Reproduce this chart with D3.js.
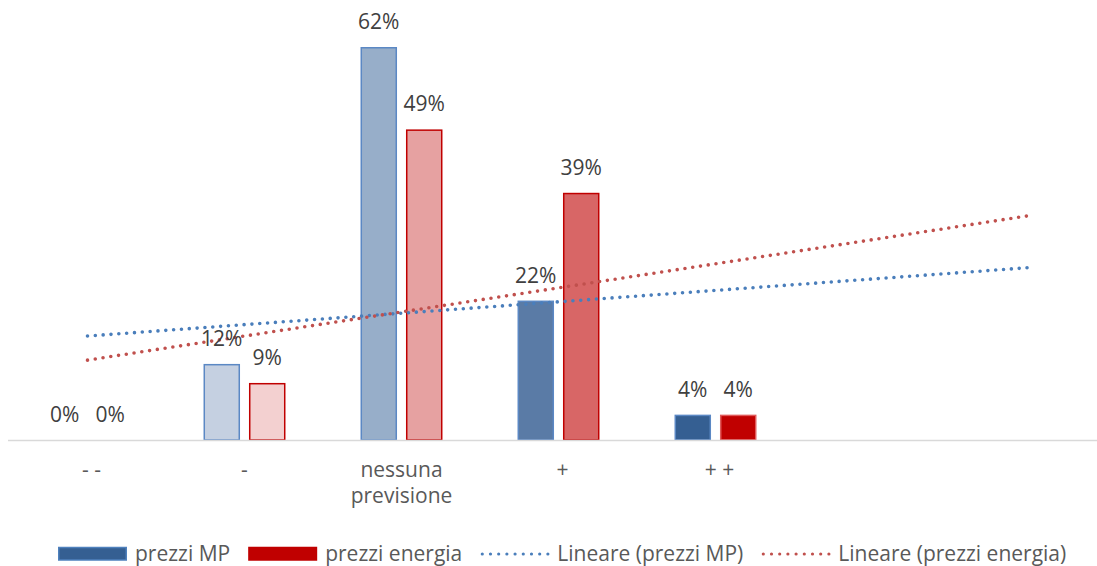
<!DOCTYPE html>
<html>
<head>
<meta charset="utf-8">
<script src="https://cdn.jsdelivr.net/npm/d3@7"></script>
<style>
  html, body { margin: 0; padding: 0; background: #ffffff; }
  svg { display: block; font-family: "Open Sans", sans-serif; }
</style>
</head>
<body>
<svg id="chart" width="1097" height="566"></svg>
<script>
// Categories (expected price movement) and survey shares, in percent
const categories = ["- -", "-", "nessuna previsione", "+", "+ +"];
const prezziMP = [0, 12, 62, 22, 4];
const prezziEnergia = [0, 9, 49, 39, 4];
const seriesNames = ["prezzi MP", "prezzi energia"];
const trendNames = ["Lineare (prezzi MP)", "Lineare (prezzi energia)"];
const forecastPeriods = 2;   // trend lines are projected two periods forward

// Per-category fills, graded from light to dark
const mpFills = ["#c5d0e1", "#c5d0e1", "#97aec9", "#5a7ba6", "#355f92"];
const mpStroke = "#5b88c4";
const enFills = ["#f3d0d0", "#f3d0d0", "#e6a1a1", "#d86666", "#c00000"];
const enStroke = "#c00000";
const trendColors = ["#4a7ebb", "#c0504d"];

const FONT = 21;
const svg = d3.select("#chart");
const W = 1097;
const baseY = 440;

// Band scale across the labelled categories plus the forecast slots
const slots = d3.range(categories.length + forecastPeriods);
const x = d3.scaleBand().domain(slots).range([9, 1108]).paddingInner(0).paddingOuter(0);
const bw = x.bandwidth();
const cx = i => x(i) + bw / 2;

const y = d3.scaleLinear().domain([0, 62]).range([baseY, 47]);

const barW = bw * 0.2325;
const innerGap = bw * 0.057;

// Bars
const series = [
  { key: "mp", values: prezziMP, fills: mpFills, stroke: mpStroke, off: -innerGap / 2 - barW },
  { key: "en", values: prezziEnergia, fills: enFills, stroke: enStroke, off: innerGap / 2 }
];

series.forEach(s => {
  const g = svg.append("g").attr("class", "bars-" + s.key);
  g.selectAll("rect")
    .data(s.values.map((v, i) => ({ v, i })).filter(d => d.v > 0))
    .join("rect")
    .attr("x", d => cx(d.i) + s.off + 0.75)
    .attr("y", d => y(d.v) + 0.75)
    .attr("width", barW - 1.5)
    .attr("height", d => baseY - y(d.v) - 0.75)
    .attr("fill", d => s.fills[d.i])
    .attr("stroke", d => (s.key === "en" && d.i === 4) ? "#e05a5a" : s.stroke)
    .attr("stroke-width", 1.5);
});

// Category axis line
svg.append("line")
  .attr("x1", 8).attr("x2", W)
  .attr("y1", baseY + 0.5).attr("y2", baseY + 0.5)
  .attr("stroke", "#d9d9d9").attr("stroke-width", 1.5);

// Linear trend lines (least squares over periods 1..n), drawn from first period to forecast end
function linearFit(vals) {
  const xs = vals.map((_, i) => i + 1);
  const mx = d3.mean(xs), my = d3.mean(vals);
  const slope = d3.sum(xs, (xi, k) => (xi - mx) * (vals[k] - my)) / d3.sum(xs, xi => (xi - mx) ** 2);
  return t => my + slope * (t - mx);
}

const trendLine = d3.line().x(d => cx(d[0] - 1)).y(d => y(d[1]));
[prezziMP, prezziEnergia].forEach((vals, k) => {
  const f = linearFit(vals);
  const first = 1, last = vals.length + forecastPeriods;
  svg.append("path")
    .attr("d", trendLine([[first, f(first)], [last, f(last)]]))
    .attr("fill", "none")
    .attr("stroke", trendColors[k])
    .attr("stroke-width", 3.6)
    .attr("stroke-linecap", "round")
    .attr("stroke-dasharray", "0 7.85");
});

// Data labels
series.forEach(s => {
  svg.append("g").selectAll("text")
    .data(s.values.map((v, i) => ({ v, i })))
    .join("text")
    .attr("x", d => cx(d.i) + s.off + barW / 2)
    .attr("y", d => y(d.v) - 18)
    .attr("text-anchor", "middle")
    .attr("font-size", FONT)
    .attr("fill", "#404040")
    .text(d => d.v + "%");
});

// Category labels (wrapped)
const wrapLabel = { "nessuna previsione": ["nessuna", "previsione"] };
const catG = svg.append("g");
categories.forEach((c, i) => {
  const lines = wrapLabel[c] || [c];
  const t = catG.append("text")
    .attr("text-anchor", "middle")
    .attr("font-size", FONT)
    .attr("fill", "#595959");
  lines.forEach((ln, j) => {
    t.append("tspan").attr("x", cx(i) + (c.includes(" ") && !wrapLabel[c] || c === "+" ? 4 : 0))
      .attr("y", 477 + j * 26).text(ln);
  });
});

// Legend
const legend = svg.append("g").attr("class", "legend");
const legendItems = [
  { name: seriesNames[0], type: "rect", fill: "#355f92", stroke: "#4f81bd" },
  { name: seriesNames[1], type: "rect", fill: "#c00000", stroke: "#c00000" },
  { name: trendNames[0], type: "dots", color: trendColors[0] },
  { name: trendNames[1], type: "dots", color: trendColors[1] }
];
let lx = 58;
const ly = 554;
legendItems.forEach(it => {
  if (it.type === "rect") {
    legend.append("rect")
      .attr("x", lx + 0.75).attr("y", ly - 6.5)
      .attr("width", 67.5).attr("height", 12.5)
      .attr("fill", it.fill).attr("stroke", it.stroke).attr("stroke-width", 1.5);
  } else {
    legend.append("line")
      .attr("x1", lx + 2).attr("x2", lx + 68)
      .attr("y1", ly).attr("y2", ly)
      .attr("stroke", it.color).attr("stroke-width", 3.2)
      .attr("stroke-linecap", "round").attr("stroke-dasharray", "0 8.2");
  }
  const t = legend.append("text")
    .attr("x", lx + 77).attr("y", ly + 7)
    .attr("font-size", FONT)
    .attr("fill", "#595959")
    .text(it.name);
  lx += 77 + t.node().getComputedTextLength() + 18;
});
</script>
</body>
</html>
